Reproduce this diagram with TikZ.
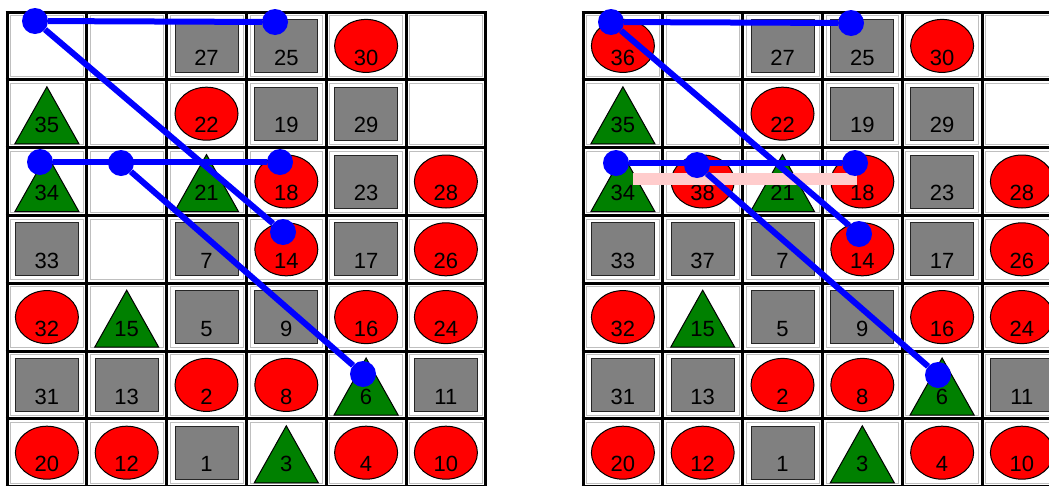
\documentclass[tikz,border=0pt]{standalone}
\usepackage{fontspec}
\setmainfont{Liberation Sans}
\definecolor{sqgray}{RGB}{128,128,128}
\definecolor{tgreen}{RGB}{0,128,0}
\definecolor{dotblue}{RGB}{0,0,255}
\definecolor{pinkbar}{RGB}{255,204,204}
\tikzset{
  sq/.style={fill=sqgray, draw=black!85, line width=1pt},
  ov/.style={fill=red, draw=black, line width=1pt},
  tri/.style={fill=tgreen, draw=black, line width=1pt},
  lbl/.style={font=\fontsize{22}{22}\selectfont, inner sep=0pt, text=black},
  dot/.style={circle, fill=dotblue, inner sep=0pt, minimum size=26pt},
  link/.style={draw=dotblue, line width=6pt},
  gridline/.style={line width=3pt, draw=black},
  innerline/.style={line width=0.8pt, draw=black!25},
  hl/.style={fill=pinkbar},
}
\newcommand\drawboard[3]{% #1 x0, #2 prefix, #3 list
  \foreach \c in {0,...,5}{
    \foreach \r in {0,...,6}{
      \draw[innerline] (#1+79.8*\c+3.5,12+67.8*\r+3.5) rectangle (#1+79.8*\c+79.8-3.5,12+67.8*\r+67.8-3.5);
    }
  }
  \foreach \i in {0,...,6}{
    \draw[gridline] (#1+79.8*\i,12) -- (#1+79.8*\i,12+67.8*7);
  }
  \foreach \i in {0,...,7}{
    \draw[gridline] (#1-1.5,12+67.8*\i) -- (#1+79.8*6+1.5,12+67.8*\i);
  }
  \foreach \c/\r/\t/\n in {#3}{
    \pgfmathsetmacro\cx{#1+79.8*(\c+0.5)}
    \pgfmathsetmacro\ty{12+67.8*\r}
    \pgfmathsetmacro\cy{\ty+33.9}
    \if\t s \draw[sq] (\cx-31.5,\cy-26.5) rectangle (\cx+31.5,\cy+26.5); \fi
    \if\t c \draw[ov] (\cx,\cy) ellipse [x radius=31.5pt, y radius=26.5pt]; \fi
    \if\t t \draw[tri] (\cx,\ty+7) -- (\cx+32,\ty+64) -- (\cx-32,\ty+64) -- cycle; \fi
    \node[lbl] (#2-\n) at (\cx,\ty+45.5) {\n};
  }
}
\begin{document}
\begin{tikzpicture}[x=1pt,y=-1pt]
\clip (0,0) rectangle (1049,485);
\fill[white] (0,0) rectangle (1049,485);
% left board
\drawboard{7}{L}{2/0/s/27,3/0/s/25,4/0/c/30,
 0/1/t/35,2/1/c/22,3/1/s/19,4/1/s/29,
 0/2/t/34,2/2/t/21,3/2/c/18,4/2/s/23,5/2/c/28,
 0/3/s/33,2/3/s/7,3/3/c/14,4/3/s/17,5/3/c/26,
 0/4/c/32,1/4/t/15,2/4/s/5,3/4/s/9,4/4/c/16,5/4/c/24,
 0/5/s/31,1/5/s/13,2/5/c/2,3/5/c/8,4/5/t/6,5/5/s/11,
 0/6/c/20,1/6/c/12,2/6/s/1,3/6/t/3,4/6/c/4,5/6/c/10}
% right board
\drawboard{583}{R}{0/0/c/36,2/0/s/27,3/0/s/25,4/0/c/30,
 0/1/t/35,2/1/c/22,3/1/s/19,4/1/s/29,
 0/2/t/34,1/2/c/38,2/2/t/21,3/2/c/18,4/2/s/23,5/2/c/28,
 0/3/s/33,1/3/s/37,2/3/s/7,3/3/c/14,4/3/s/17,5/3/c/26,
 0/4/c/32,1/4/t/15,2/4/s/5,3/4/s/9,4/4/c/16,5/4/c/24,
 0/5/s/31,1/5/s/13,2/5/c/2,3/5/c/8,4/5/t/6,5/5/s/11,
 0/6/c/20,1/6/c/12,2/6/s/1,3/6/t/3,4/6/c/4,5/6/c/10}
% highlight bar
\fill[hl] (633,173) rectangle (857,185);
% left dots and links
\node[dot] (LA) at (35,21) {};
\node[dot] (LB) at (275,22) {};
\node[dot] (LC) at (40,162) {};
\node[dot] (LD) at (121,163) {};
\node[dot] (LE) at (280,162) {};
\node[dot] (LF) at (283,232) {};
\node[dot] (LG) at (363,374) {};
\draw[link] (LA) -- (LB);
\draw[link] (LA) -- (LF);
\draw[link] (LC) -- (LE);
\draw[link] (LD) -- (LG);
% right dots and links
\node[dot] (RA) at (611,22) {};
\node[dot] (RB) at (851,23) {};
\node[dot] (RC) at (616,163) {};
\node[dot] (RD) at (697,165) {};
\node[dot] (RE) at (855,163) {};
\node[dot] (RF) at (859,234) {};
\node[dot] (RG) at (938,375) {};
\draw[link] (RA) -- (RB);
\draw[link] (RA) -- (RF);
\draw[link] (RC) -- (RE);
\draw[link] (RD) -- (RG);
\end{tikzpicture}
\end{document}
